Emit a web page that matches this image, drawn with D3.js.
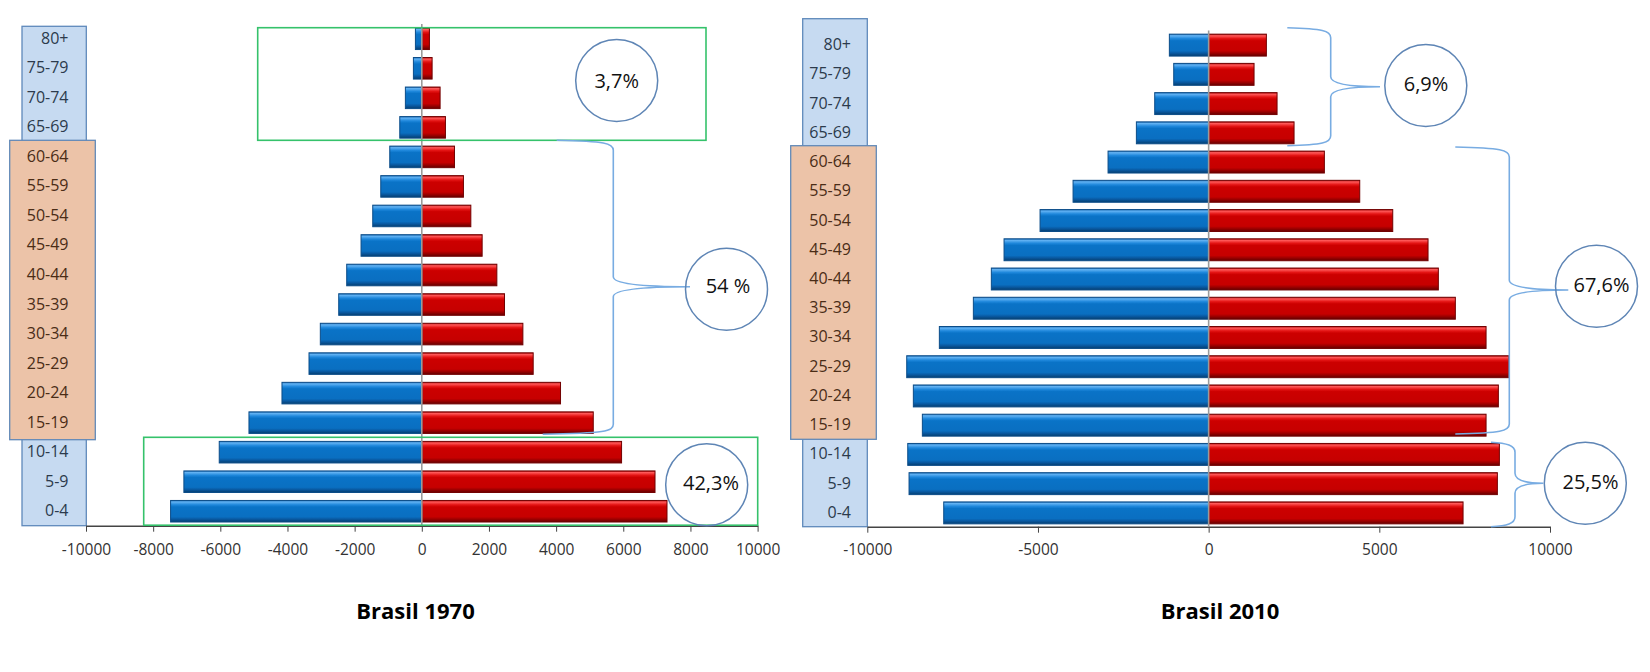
<!DOCTYPE html>
<html>
<head>
<meta charset="utf-8">
<script src="https://cdn.jsdelivr.net/npm/d3@7"></script>
<style>
  html, body { margin: 0; padding: 0; background: #fff; }
  svg { display: block; }
  text { font-family: "Open Sans", "Noto Sans", sans-serif; }
</style>
</head>
<body>
<svg id="chart" width="1650" height="672"></svg>
<script>
// ---------- DATA ----------
const ageGroups = ["0-4","5-9","10-14","15-19","20-24","25-29","30-34","35-39","40-44","45-49","50-54","55-59","60-64","65-69","70-74","75-79","80+"];
const male1970   = [-7481,-7085,-6032,-5147,-4164,-3359,-3022,-2474,-2236,-1809,-1461,-1222,-954,-656,-489,-250,-190];
const female1970 = [7302,6945,5949,5106,4131,3317,3010,2463,2235,1797,1460,1240,973,704,545,307,227];
const male2010   = [-7761,-8777,-8815,-8387,-8651,-8845,-7889,-6893,-6366,-5994,-4939,-3972,-2947,-2117,-1580,-1023,-1151];
const female2010 = [7453,8458,8517,8127,8487,8792,8127,7227,6729,6427,5393,4426,3390,2502,2004,1330,1691];
const ticks1970 = [-10000,-8000,-6000,-4000,-2000,0,2000,4000,6000,8000,10000];
const ticks2010 = [-10000,-5000,0,5000,10000];
const titles = ["Brasil 1970","Brasil 2010"];
const pct1970 = ["3,7%","54 %","42,3%"];
const pct2010 = ["6,9%","67,6%","25,5%"];
const blueGroups = ["80+","75-79","70-74","65-69","10-14","5-9","0-4"];

// ---------- SETUP ----------
const svg = d3.select("#chart");
const defs = svg.append("defs");
function grad(id, stops) {
  const g = defs.append("linearGradient").attr("id", id).attr("x1",0).attr("y1",0).attr("x2",0).attr("y2",1);
  stops.forEach(s => g.append("stop").attr("offset", s[0]).attr("stop-color", s[1]));
}
grad("gBlue", [[0,"#1d6db5"],[0.07,"#62b2f3"],[0.2,"#1f88dc"],[0.3,"#0a73c7"],[0.76,"#0a6fc1"],[0.87,"#0958a0"],[1,"#053f70"]]);
grad("gRed",  [[0,"#a30000"],[0.07,"#ff5a5a"],[0.2,"#e41414"],[0.3,"#cc0000"],[0.76,"#c60000"],[0.87,"#9c0000"],[1,"#640000"]]);

const domainY = ageGroups.slice().reverse();

function pyramid(cfg) {
  const g = svg.append("g");
  const x = d3.scaleLinear().domain([-10000, 10000]).range(cfg.xr);
  const y = d3.scaleBand().domain(domainY).range(cfg.yr).paddingInner(cfg.pad).paddingOuter(cfg.pad/2);

  // label boxes
  g.append("rect").attr("x", cfg.blueBox[0]).attr("y", cfg.blueBox[1])
    .attr("width", cfg.blueBox[2]-cfg.blueBox[0]).attr("height", cfg.blueBox[3]-cfg.blueBox[1])
    .attr("fill", "#c6daf1").attr("stroke", "#5f89bb").attr("stroke-width", 1.3);
  g.append("rect").attr("x", cfg.orBox[0]).attr("y", cfg.orBox[1])
    .attr("width", cfg.orBox[2]-cfg.orBox[0]).attr("height", cfg.orBox[3]-cfg.orBox[1])
    .attr("fill", "#ecc3a8").attr("stroke", "#6289b8").attr("stroke-width", 1.3);

  g.selectAll("text.cat").data(ageGroups).join("text").attr("class","cat")
    .attr("x", cfg.labelX).attr("y", d => y(d) + y.bandwidth()/2 - 1)
    .attr("text-anchor", "end").attr("dominant-baseline", "central")
    .attr("font-size", 16)
    .attr("fill", d => blueGroups.includes(d) ? "#2c3a4c" : "#4a2c16")
    .text(d => d);

  // bars
  const rows = ageGroups.map((a,i) => ({a, m: cfg.male[i], f: cfg.female[i]}));
  g.selectAll("rect.m").data(rows).join("rect").attr("class","m")
    .attr("x", d => x(d.m)).attr("width", d => x(0) - x(d.m))
    .attr("y", d => y(d.a)).attr("height", y.bandwidth())
    .attr("fill", "url(#gBlue)").attr("stroke", "#0b4c88").attr("stroke-width", 1);
  g.selectAll("rect.f").data(rows).join("rect").attr("class","f")
    .attr("x", x(0)).attr("width", d => x(d.f) - x(0))
    .attr("y", d => y(d.a)).attr("height", y.bandwidth())
    .attr("fill", "url(#gRed)").attr("stroke", "#720000").attr("stroke-width", 1);

  // axis
  const ax = g.append("g").attr("transform", `translate(0,${cfg.axisY})`)
    .call(d3.axisBottom(x).tickValues(cfg.ticks).tickFormat(d => String(d)).tickSize(6).tickSizeOuter(0).tickPadding(cfg.tickPad));
  ax.select(".domain").attr("stroke", "#444").attr("stroke-width", 1.5);
  ax.selectAll(".tick line").attr("stroke", "#444");
  ax.selectAll(".tick text").attr("font-size", 15.5).attr("fill", "#333")
    .attr("font-family", "\"Open Sans\", sans-serif");

  // center line
  g.append("line").attr("x1", x(0)).attr("x2", x(0)).attr("y1", cfg.yr[0]).attr("y2", cfg.axisY)
    .attr("stroke", "#9a9a9a").attr("stroke-width", 1.6);

  // title
  g.append("text").attr("x", cfg.titleX).attr("y", 610).attr("text-anchor","middle")
    .attr("dominant-baseline","central").attr("font-size", 22).attr("font-weight", 700)
    .attr("fill", "#000").text(cfg.title);
  return g;
}

const L = pyramid({xr:[86,757.6], yr:[24,526], pad:0.27, axisY:525.7, tickPad:12,
  male: male1970, female: female1970, ticks: ticks1970, labelX: 68.5,
  blueBox:[22,26.3,86.3,525.7], orBox:[9.7,140.3,95.3,439.7], titleX:415.5, title: titles[0]});
const R = pyramid({xr:[867.3,1550], yr:[30.5,527.5], pad:0.25, axisY:526.7, tickPad:11,
  male: male2010, female: female2010, ticks: ticks2010, labelX: 851,
  blueBox:[802.7,18.7,867.3,526.7], orBox:[790.7,145.7,876.3,439.3], titleX:1220, title: titles[1]});

// ---------- ANNOTATIONS ----------
const ann = svg.append("g");
// green highlight boxes (1970)
[[257.7,27.7,706,140.3],[143.7,437.3,757.7,525.2]].forEach(b => {
  ann.append("rect").attr("x", b[0]).attr("y", b[1]).attr("width", b[2]-b[0]).attr("height", b[3]-b[1])
    .attr("fill", "none").attr("stroke", "#35c26b").attr("stroke-width", 1.6);
});

// curly braces
function brace(xt0, y0, xs, xt, ym, xb0, y1) {
  const r = Math.min(10, (ym - y0) / 4);
  return `M${xt0},${y0} C${xs-8},${y0+1} ${xs},${y0+3} ${xs},${y0+r}` +
         ` L${xs},${ym-r} C${xs},${ym-3} ${xs+(xt-xs)*0.35},${ym} ${xt},${ym}` +
         ` C${xs+(xt-xs)*0.35},${ym} ${xs},${ym+3} ${xs},${ym+r}` +
         ` L${xs},${y1-r} C${xs},${y1-3} ${xs-8},${y1-1} ${xb0},${y1}`;
}
const braces = [
  [556.7,140.3,613.3,690,286.7,542.7,434.3],
  [1287.3,27.7,1330.7,1380,86.7,1287.3,145.7],
  [1455.3,147,1509.3,1568.3,290,1455.3,434],
  [1491,442.3,1515,1543.3,483.3,1491,526.7]
];
braces.forEach(b => {
  ann.append("path").attr("d", brace(...b)).attr("fill","none")
    .attr("stroke", "#78ace2").attr("stroke-width", 1.6);
});

// circles with percentages
const circles = [
  {cx:616.7, cy:80.5, tx:616.7, ty:80, t:pct1970[0]},
  {cx:726.5, cy:289.2, tx:728, ty:285, t:pct1970[1]},
  {cx:706.7, cy:484.8, tx:711, ty:482, t:pct1970[2]},
  {cx:1425.8, cy:85.5, tx:1426, ty:83.5, t:pct2010[0]},
  {cx:1596.5, cy:286.3, tx:1601.5, ty:284.5, t:pct2010[1]},
  {cx:1585.3, cy:483.3, tx:1590.5, ty:481, t:pct2010[2]}
];
circles.forEach(c => {
  ann.append("circle").attr("cx", c.cx).attr("cy", c.cy).attr("r", 41)
    .attr("fill", "none").attr("stroke", "#5e85b5").attr("stroke-width", 1.5);
  ann.append("text").attr("x", c.tx).attr("y", c.ty).attr("text-anchor","middle")
    .attr("dominant-baseline","central").attr("font-size", 20).attr("fill", "#111").text(c.t);
});
</script>
</body>
</html>
